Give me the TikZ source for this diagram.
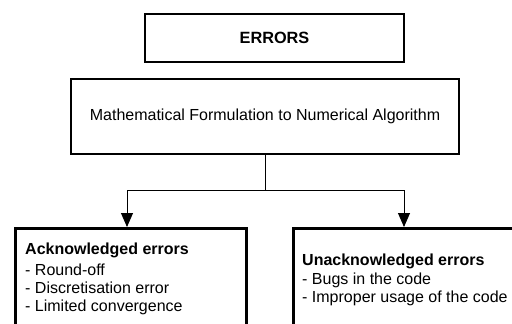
\documentclass[tikz,border=0pt]{standalone}
\usepackage{fontspec}
\setmainfont{Liberation Sans}
\usetikzlibrary{arrows.meta}
\begin{document}
\begin{tikzpicture}[x=1pt,y=-1pt,
  box/.style={draw,line width=2.6pt,inner sep=0pt},
  conn/.style={line width=0.9pt},
  arr/.style={conn,-{Triangle[length=14pt,width=12pt]}},
  txt/.style={font=\fontsize{16}{18}\selectfont,align=left,inner sep=0pt,anchor=north west}]
\useasboundingbox (0,0) rectangle (512,324);
\fill[white] (0,0) rectangle (512,324);
\node[box,minimum width=259pt,minimum height=48pt,font=\bfseries\fontsize{16.3}{18}\selectfont] (err) at (274.5,38) {ERRORS};
\node[box,minimum width=388pt,minimum height=75pt,font=\fontsize{16}{18}\selectfont] (math) at (265,116.5) {Mathematical Formulation to Numerical Algorithm};
\node[box,minimum width=231pt,minimum height=130pt,anchor=north west] (ack) at (14,227) {};
\node[box,minimum width=224pt,minimum height=130pt,anchor=north west] (unack) at (292,227) {};
\coordinate (j) at (265,190);
\coordinate (jl) at (127,190);
\coordinate (jr) at (404,190);
\draw[conn] (math.south -| j) -- (j);
\draw[conn] (jl) -- (jr);
\draw[arr] (jl) -- (jl |- ack.north);
\draw[arr] (jr) -- (jr |- unack.north);
\node[txt] (acktext) at (25,243) {\textbf{Acknowledged errors}\\[2.5pt]- Round-off\\- Discretisation error\\- Limited convergence};
\node[txt] (unacktext) at (302,254) {\textbf{Unacknowledged errors}\\[1pt]- Bugs in the code\\- Improper usage of the code};
\end{tikzpicture}
\end{document}
